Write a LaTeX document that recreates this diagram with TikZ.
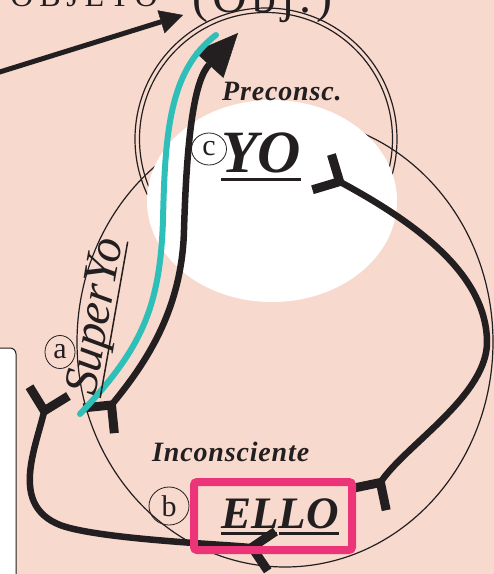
\documentclass[tikz,border=0pt]{standalone}
\usepackage{fontspec}
\setmainfont{Liberation Serif}
\usetikzlibrary{arrows.meta,shapes.geometric,calc}

\definecolor{peach}{RGB}{248,217,205}
\definecolor{ink}{RGB}{35,31,32}
\definecolor{cyanline}{RGB}{46,191,184}
\definecolor{rosa}{RGB}{236,52,120}

\tikzset{
  fletch/.tip={Straight Barb[reversed,length=20pt,width=40pt,line width=9pt]},
  bigtri/.tip={Triangle[length=43pt,width=39pt,line width=0.5pt]},
  zone/.style={ink,line width=1.2pt},
  flow/.style={ink,line width=6.5pt},
  ring/.style={ellipse,draw=ink,line width=0.8pt,inner sep=0pt,text=ink,font={\fontsize{30}{30}\selectfont}},
  bigword/.style={inner sep=0pt,text=ink,font={\fontsize{#1}{#1}\selectfont\bfseries\itshape}},
  zonename/.style={inner sep=0pt,text=ink,font={\fontsize{28}{28}\selectfont\bfseries\itshape\addfontfeatures{LetterSpace=3}}}
}

\begin{document}
\begin{tikzpicture}[x=1pt,y=-1pt]
\useasboundingbox (0,0) rectangle (494,574);
\clip (0,0) rectangle (494,574);
\fill[peach] (0,0) rectangle (494,574);
\draw[ink,line width=1pt,fill=white,rounded corners=6pt] (-10,348) rectangle (16,590);

\coordinate (P) at (266,139);
\coordinate (I) at (285,342);
\coordinate (Y) at (272,201);
\draw[zone] (P) circle (131);
\draw[zone] (P) circle (126.5);
\draw[zone] (I) ellipse (208 and 225);
\fill[white] (Y) ellipse (125 and 101);

\node[anchor=base east,inner sep=0pt,text=ink,font={\fontsize{32}{32}\selectfont\addfontfeatures{LetterSpace=18}}] (objeto) at (158,6) {OBJETO};
\node[anchor=base west,inner sep=0pt,text=ink,font={\fontsize{48}{48}\selectfont\addfontfeatures{LetterSpace=10}}] (obj) at (192,12) {(Obj.)};

\coordinate (a0) at (-10,75);
\coordinate (a1) at (183,15);
\draw[ink,line width=5pt,-{Triangle[length=23pt,width=24pt,line width=0.5pt]}] (a0) -- (a1);

\coordinate (b0) at (96,424);
\coordinate (b1) at (184,230);
\coordinate (b2) at (238,33);
\draw[flow,{fletch}-{bigtri}] (b0) .. controls (140,370) and (182,315) .. (b1)
  .. controls (187,130) and (195,80) .. (b2);

\coordinate (c0) at (318,170);
\coordinate (c1) at (487,340);
\coordinate (c2) at (367,503);
\draw[flow,{fletch}-{fletch}] (c0) .. controls (420,225) and (485,275) .. (c1)
  .. controls (489,395) and (405,445) .. (c2);

\coordinate (d0) at (276,552);
\coordinate (d1) at (60,525);
\coordinate (d2) at (50,387);
\draw[flow,{fletch}-{fletch}] (d0) .. controls (240,545) and (100,540) .. (d1)
  .. controls (10,505) and (35,450) .. (d2);

\coordinate (s0) at (80,414);
\coordinate (s1) at (163,220);
\coordinate (s2) at (216,35);
\draw[cyanline,line width=6pt,line cap=round] (s0) .. controls (140,350) and (160,310) .. (s1)
  .. controls (165,130) and (170,70) .. (s2);

\node[anchor=base west,zonename] (precon) at (222,100) {Preconsc.};
\node[anchor=base west,zonename] (incons) at (152,461) {Inconsciente};

\node[anchor=base west,bigword=60] (yo) at (221,172) {YO};
\draw[ink,line width=3pt] ([yshift=-7pt]yo.base west) -- ([yshift=-7pt]yo.base east);

\node[anchor=base west,bigword=45] (ello) at (221,528) {ELLO};
\draw[ink,line width=3pt] ([yshift=-5pt]ello.base west) -- +(56,0)
  ([yshift=-5pt]ello.base east) -- +(-60,0);

\node[rotate=80,anchor=base,inner sep=0pt,text=ink,font={\fontsize{48}{48}\selectfont\itshape}] (super) at (109,319) {SuperYo};
\draw[ink,line width=1.5pt] ($(super.base west)!5pt!-90:(super.base east)$) -- ($(super.base east)!5pt!90:(super.base west)$);

\node[ring,minimum width=30pt,minimum height=33pt] (ca) at (60,352) {a};
\node[ring,minimum width=40pt,minimum height=38pt] (cb) at (169,506) {b};
\node[ring,minimum width=35pt,minimum height=32pt] (cc) at (209,149) {c};

\draw[rosa,line width=8pt,rounded corners=3pt] (194,482) rectangle (352,550);
\end{tikzpicture}
\end{document}
